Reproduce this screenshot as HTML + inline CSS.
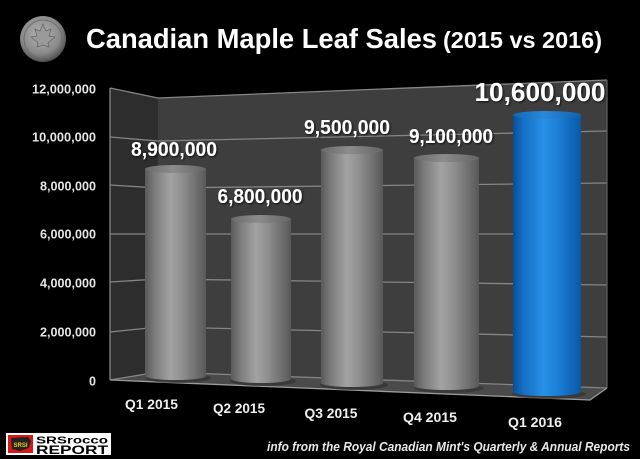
<!DOCTYPE html>
<html><head><meta charset="utf-8"><style>
html,body{margin:0;padding:0;background:#000;}
svg{display:block;}
text{font-family:"Liberation Sans",Arial,sans-serif;}
</style></head><body>
<svg width="640" height="459" viewBox="0 0 640 459" xmlns="http://www.w3.org/2000/svg">
<defs>
<linearGradient id="gb" x1="0" x2="1" y1="0" y2="0">
<stop offset="0" stop-color="#5a5a5a"/><stop offset="0.15" stop-color="#7a7a7a"/><stop offset="0.42" stop-color="#a3a3a3"/><stop offset="0.62" stop-color="#8e8e8e"/><stop offset="1" stop-color="#595959"/>
</linearGradient>
<linearGradient id="gc" x1="0" x2="1"><stop offset="0" stop-color="#6a6a6a"/><stop offset="0.45" stop-color="#8c8c8c"/><stop offset="1" stop-color="#656565"/></linearGradient>
<linearGradient id="bb" x1="0" x2="1">
<stop offset="0" stop-color="#0a4d96"/><stop offset="0.15" stop-color="#1570c4"/><stop offset="0.45" stop-color="#2690e6"/><stop offset="0.66" stop-color="#1b7fd6"/><stop offset="1" stop-color="#0a58a6"/>
</linearGradient>
<linearGradient id="bc" x1="0" x2="1"><stop offset="0" stop-color="#1468b8"/><stop offset="0.45" stop-color="#2a88d8"/><stop offset="1" stop-color="#1262b2"/></linearGradient>
<radialGradient id="coin" cx="0.45" cy="0.4" r="0.6"><stop offset="0" stop-color="#b4b4b4"/><stop offset="0.7" stop-color="#8a8a8a"/><stop offset="1" stop-color="#505050"/></radialGradient>
<filter id="sh" x="-10%" y="-30%" width="120%" height="160%"><feDropShadow dx="1" dy="1" stdDeviation="1" flood-color="#000" flood-opacity="0.8"/></filter>
</defs>

<!-- title -->
<circle cx="43" cy="39" r="23" fill="url(#coin)"/>
<circle cx="43" cy="39" r="19" fill="none" stroke="#6e6e6e" stroke-width="1"/>
<path d="M43 24 L46 31 L51 29 L49 36 L55 37 L48 43 L49 47 L43 45 L37 47 L38 43 L31 37 L37 36 L35 29 L40 31 Z" fill="#9a9a9a" stroke="#666" stroke-width="0.8"/>
<text x="86" y="48" font-size="28" font-weight="bold" fill="#fff" textLength="351" lengthAdjust="spacingAndGlyphs">Canadian Maple Leaf Sales</text>
<text x="443" y="48" font-size="23" font-weight="bold" fill="#fff" textLength="159" lengthAdjust="spacingAndGlyphs">(2015 vs 2016)</text>

<!-- walls -->
<polygon points="110,88 158,98 158,372 110,380" fill="#2d2d2d"/>
<polygon points="158,98 607,80 607,388 158,372" fill="#3e3e3e"/>
<polygon points="110,380 158,372 607,388 590,400" fill="#4a4a4a"/>
<g stroke="#858585" stroke-width="1.3" fill="none">
<polyline points="110,88 158,98 607,80"/>
<line x1="110" y1="88" x2="110" y2="380"/>
<polyline points="110,137 158,141 607,131"/>
<polyline points="110,185 158,188 607,183"/>
<polyline points="110,234 158,234 607,234"/>
<polyline points="110,282 158,279 607,285"/>
<polyline points="110,332 158,327 607,337"/>
<polyline points="110,380 158,372 607,388"/>
<line x1="607" y1="80" x2="607" y2="388" stroke="#5a5a5a"/>
<polyline points="110,380 590,400 607,388" stroke="#9a9a9a"/>
</g>

<!-- y axis labels -->
<g font-size="12.5" font-weight="bold" fill="#e6e6e6" text-anchor="end">
<text x="96" y="93.5" textLength="64" lengthAdjust="spacingAndGlyphs">12,000,000</text>
<text x="96" y="141.5" textLength="64" lengthAdjust="spacingAndGlyphs">10,000,000</text>
<text x="96" y="190.5" textLength="56" lengthAdjust="spacingAndGlyphs">8,000,000</text>
<text x="96" y="238.5" textLength="56" lengthAdjust="spacingAndGlyphs">6,000,000</text>
<text x="96" y="287.5" textLength="56" lengthAdjust="spacingAndGlyphs">4,000,000</text>
<text x="96" y="336.5" textLength="56" lengthAdjust="spacingAndGlyphs">2,000,000</text>
<text x="96" y="385.5">0</text>
</g>

<!-- shadows on floor -->
<g fill="#333" opacity="0.7">
<ellipse cx="178" cy="378" rx="33" ry="5"/>
<ellipse cx="263" cy="381" rx="33" ry="5"/>
<ellipse cx="354" cy="385" rx="34" ry="5"/>
<ellipse cx="449" cy="388" rx="35" ry="5"/>
<ellipse cx="549" cy="394" rx="37" ry="5"/>
</g>

<!-- cylinders -->
<path d="M145 169 L145 376 A30.5 4 0 0 0 206 376 L206 169 Z" fill="url(#gb)"/>
<ellipse cx="175.5" cy="169" rx="30.5" ry="4" fill="url(#gc)"/>
<path d="M231 219 L231 379 A30 4 0 0 0 291 379 L291 219 Z" fill="url(#gb)"/>
<ellipse cx="261" cy="219" rx="30" ry="4" fill="url(#gc)"/>
<path d="M321 150 L321 383 A31 4 0 0 0 383 383 L383 150 Z" fill="url(#gb)"/>
<ellipse cx="352" cy="150" rx="31" ry="4" fill="url(#gc)"/>
<path d="M414 158 L414 386 A32.5 4 0 0 0 479 386 L479 158 Z" fill="url(#gb)"/>
<ellipse cx="446.5" cy="158" rx="32.5" ry="4" fill="url(#gc)"/>
<path d="M513 115 L513 392 A34 4 0 0 0 581 392 L581 115 Z" fill="url(#bb)"/>
<ellipse cx="547" cy="115" rx="34" ry="4" fill="url(#bc)"/>

<!-- value labels -->
<g font-weight="bold" fill="#fff" text-anchor="middle" filter="url(#sh)">
<text x="174" y="156" font-size="20" textLength="86" lengthAdjust="spacingAndGlyphs">8,900,000</text>
<text x="260" y="203" font-size="20" textLength="85" lengthAdjust="spacingAndGlyphs">6,800,000</text>
<text x="347" y="134" font-size="20" textLength="86" lengthAdjust="spacingAndGlyphs">9,500,000</text>
<text x="451" y="143" font-size="20" textLength="84" lengthAdjust="spacingAndGlyphs">9,100,000</text>
<text x="540" y="101" font-size="26" textLength="131" lengthAdjust="spacingAndGlyphs">10,600,000</text>
</g>

<!-- x labels -->
<g font-size="14" font-weight="bold" fill="#f0f0f0" text-anchor="middle">
<text x="151.5" y="409" textLength="53" lengthAdjust="spacingAndGlyphs">Q1 2015</text>
<text x="239" y="413" textLength="52" lengthAdjust="spacingAndGlyphs">Q2 2015</text>
<text x="331" y="418" textLength="53" lengthAdjust="spacingAndGlyphs">Q3 2015</text>
<text x="430" y="422" textLength="54" lengthAdjust="spacingAndGlyphs">Q4 2015</text>
<text x="535" y="427" textLength="54" lengthAdjust="spacingAndGlyphs">Q1 2016</text>
</g>

<!-- logo -->
<rect x="6" y="433" width="105" height="22" fill="#fff"/>
<rect x="8" y="435" width="25" height="18" fill="#d81818"/>
<path d="M11 438 L28 437 L31 441 L29 448 L20 451 L12 449 Z" fill="#222"/>
<text x="20.5" y="447" font-size="6" font-weight="bold" fill="#f0d000" text-anchor="middle">SRSI</text>
<text x="36" y="443.5" font-size="10" font-weight="bold" fill="#000" textLength="72" lengthAdjust="spacingAndGlyphs">SRSrocco</text>
<text x="36" y="454" font-size="11.5" font-weight="bold" fill="#000" textLength="72" lengthAdjust="spacingAndGlyphs">REPORT</text>

<!-- source -->
<text x="267" y="451" font-size="12.5" font-weight="bold" font-style="italic" fill="#e8e8e8" textLength="363" lengthAdjust="spacingAndGlyphs">info from the Royal Canadian Mint's Quarterly &amp; Annual Reports</text>
</svg>
</body></html>
